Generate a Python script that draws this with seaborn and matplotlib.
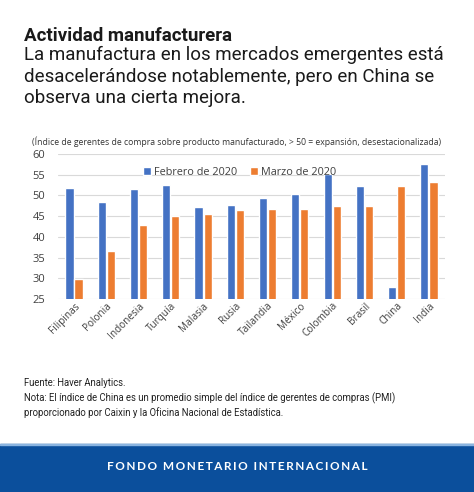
import matplotlib
matplotlib.use('Agg')
import matplotlib.pyplot as plt
import seaborn as sns
import pandas as pd
from matplotlib.patches import Rectangle

# data
countries = ['Filipinas', 'Polonia', 'Indonesia', 'Turquía', 'Malasia', 'Rusia',
             'Tailandia', 'México', 'Colombia', 'Brasil', 'China', 'India']
febrero = [51.9, 48.5, 51.5, 52.6, 47.1, 47.8, 49.5, 50.3, 55.1, 52.3, 28.0, 57.5]
marzo = [29.8, 36.7, 42.9, 45.0, 45.6, 46.4, 46.8, 46.8, 47.4, 47.5, 52.3, 53.3]
series = ['Febrero de 2020', 'Marzo de 2020']
yticks = [25, 30, 35, 40, 45, 50, 55, 60]

df = pd.DataFrame({
    'País': countries * 2,
    'Valor': febrero + marzo,
    'Serie': [series[0]] * len(countries) + [series[1]] * len(countries),
})

sns.set_style('white')
plt.rcParams['font.family'] = ['Open Sans', 'DejaVu Sans']

fig = plt.figure(figsize=(4.74, 4.92), dpi=100)
ax = fig.add_axes([0.122, 0.392, 0.817, 0.295])

sns.barplot(data=df, x='País', y='Valor', hue='Serie', ax=ax,
            palette=['#4472C4', '#ED7D31'], width=0.56, gap=0.1,
            saturation=1, errorbar=None)

ax.set_ylim(25, 60)
ax.set_yticks(yticks)
ax.yaxis.grid(True, color='#d9d9d9', linewidth=0.8)
ax.set_axisbelow(True)
for s in ax.spines.values():
    s.set_visible(False)
ax.set_xlabel('')
ax.set_ylabel('')
ax.tick_params(axis='y', labelsize=8, colors='#404040', length=0, pad=9)
ax.tick_params(axis='x', labelsize=7.2, colors='#404040', length=0, pad=1)
plt.setp(ax.get_xticklabels(), rotation=45, ha='right', rotation_mode='anchor')

ax.legend(loc='upper center', bbox_to_anchor=(0.47, 0.98), ncol=2, frameon=False,
          fontsize=7.8, handlelength=0.7, handleheight=0.7, handletextpad=0.3,
          columnspacing=1.2, labelcolor='#404040')

# titles
fig.text(24 / 474, 1 - 41 / 492, 'Actividad manufacturera', fontsize=13.5,
         fontweight='bold', family='Roboto', va='baseline', color='#1a1a1a')
sub = ['La manufactura en los mercados emergentes está',
       'desacelerándose notablemente, pero en China se',
       'observa una cierta mejora.']
for i, line in enumerate(sub):
    fig.text(24 / 474, 1 - (60 + 21.5 * i) / 492, line, fontsize=13.5,
             family='Roboto', va='baseline', color='#1a1a1a')
fig.text(0.5, 1 - 142 / 492,
         '(Índice de gerentes de compra sobre producto manufacturado, > 50 = expansión, desestacionalizada)',
         fontsize=6.2, ha='center', va='center', color='#333333')

# footer
foot = ['Fuente: Haver Analytics.',
        'Nota: El índice de China es un promedio simple del índice de gerentes de compras (PMI)',
        'proporcionado por Caixin y la Oficina Nacional de Estadística.']
for i, line in enumerate(foot):
    fig.text(24 / 474, 1 - (383 + 15 * i) / 492, line, fontsize=6.85,
             family='Roboto', va='center', color='#222222')

fig.patches.append(Rectangle((0, 0), 1, 48 / 492, transform=fig.transFigure,
                             color='#0b4f9c', zorder=0))
fig.patches.append(Rectangle((0, 47 / 492), 1, 1.5 / 492, transform=fig.transFigure,
                             color='#8ab4e0', zorder=1))
fig.text(0.5, 25 / 492, 'F O N D O   M O N E T A R I O   I N T E R N A C I O N A L'.replace(' ', '\u2009').replace('\u2009\u2009\u2009', '  '),
         fontsize=8.5, fontweight='bold', family='Lato', ha='center', va='center',
         color='white')

fig.savefig('out.png', dpi=100)
